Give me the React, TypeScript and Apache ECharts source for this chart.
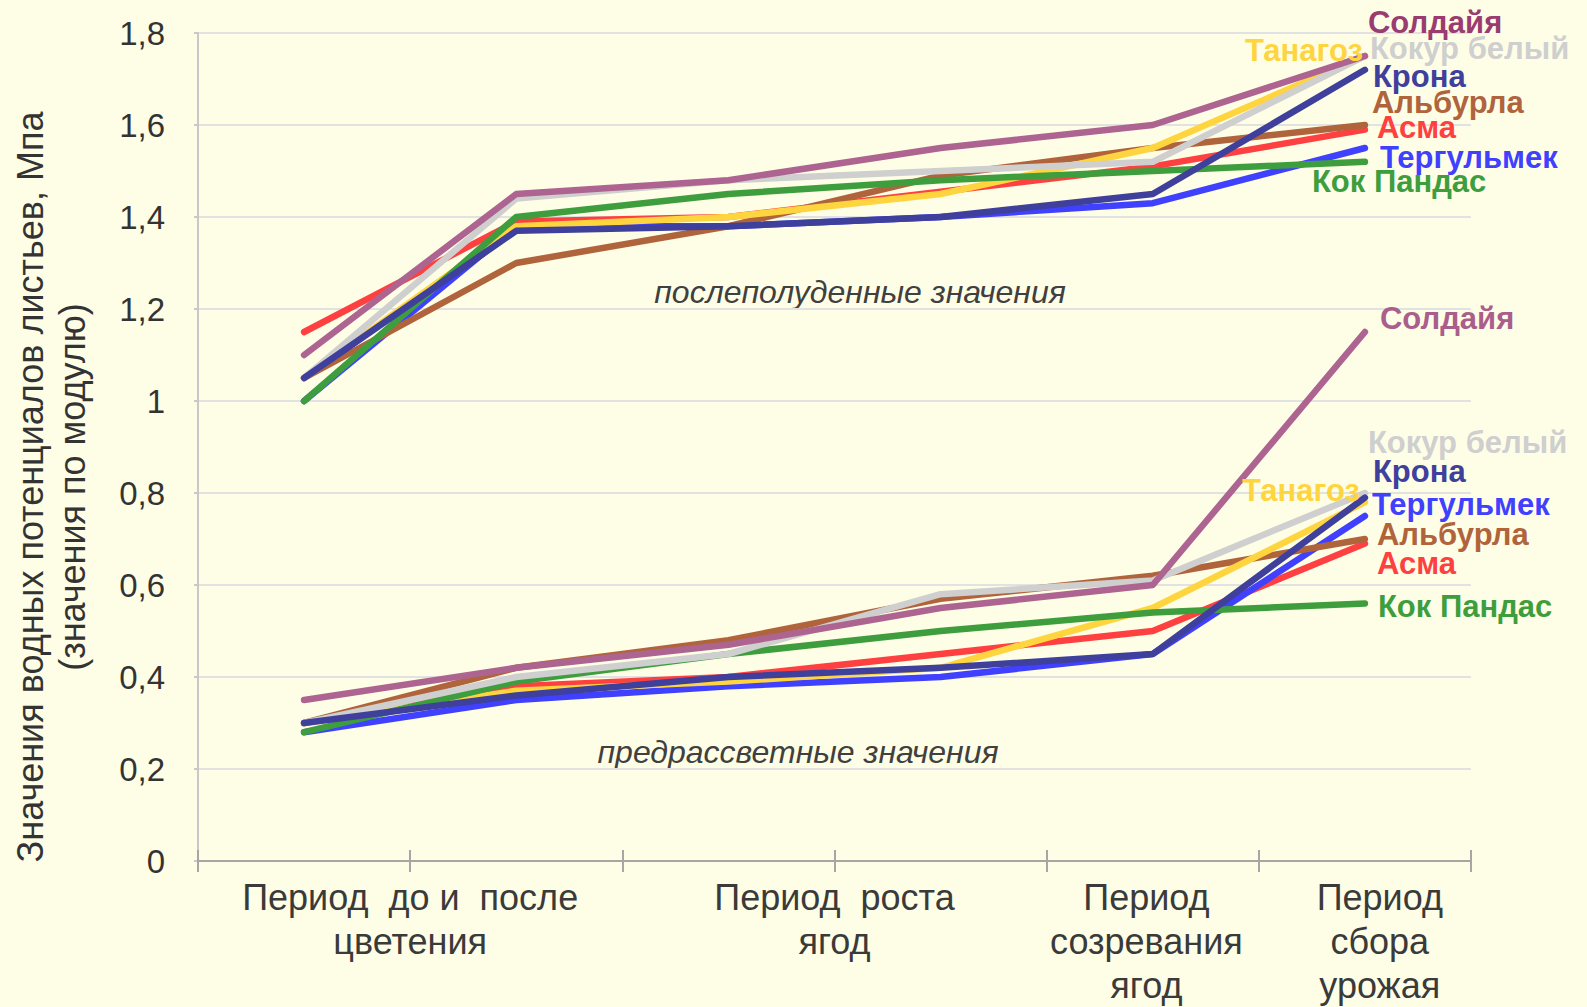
import React, { useEffect, useRef } from 'react';
import * as echarts from 'echarts';

// Measurement points along the season (six per variety)
const measurementPoints = ['I', 'II', 'III', 'IV', 'V', 'VI'];

// Period captions under the axis and where they sit on the 0..6 scale
const periodLabels = [
  'Период  до и  после\nцветения',
  'Период  роста\nягод',
  'Период\nсозревания\nягод',
  'Период\nсбора\nурожая',
];
const periodLabelAt = [1, 3, 4.47, 5.57];

// Y axis scale
const yMin = 0;
const yMax = 1.8;
const yStep = 0.2;

const varieties = ['Солдайя', 'Кокур белый', 'Танагоз', 'Крона', 'Альбурла', 'Асма', 'Тергульмек', 'Кок Пандас'];

// Afternoon leaf water potentials, MPa (absolute values)
const afternoonSoldaya = [1.10, 1.45, 1.48, 1.55, 1.60, 1.75];
const afternoonKokur = [1.05, 1.44, 1.48, 1.50, 1.52, 1.75];
const afternoonTanagoz = [1.05, 1.38, 1.40, 1.45, 1.55, 1.75];
const afternoonKrona = [1.05, 1.37, 1.38, 1.40, 1.45, 1.72];
const afternoonAlburla = [1.05, 1.30, 1.38, 1.49, 1.55, 1.60];
const afternoonAsma = [1.15, 1.39, 1.40, 1.455, 1.51, 1.59];
const afternoonTergulmek = [1.00, 1.38, 1.38, 1.40, 1.43, 1.55];
const afternoonKokPandas = [1.00, 1.40, 1.45, 1.48, 1.50, 1.52];

// Predawn leaf water potentials, MPa (absolute values)
const predawnSoldaya = [0.35, 0.42, 0.47, 0.55, 0.60, 1.15];
const predawnKokur = [0.30, 0.40, 0.45, 0.58, 0.61, 0.80];
const predawnTanagoz = [0.30, 0.37, 0.39, 0.42, 0.55, 0.78];
const predawnKrona = [0.30, 0.36, 0.40, 0.42, 0.45, 0.79];
const predawnAlburla = [0.30, 0.42, 0.48, 0.57, 0.62, 0.70];
const predawnAsma = [0.30, 0.38, 0.40, 0.45, 0.50, 0.69];
const predawnTergulmek = [0.28, 0.35, 0.38, 0.40, 0.45, 0.75];
const predawnKokPandas = [0.28, 0.39, 0.45, 0.50, 0.54, 0.56];

const afternoonValues = [
  afternoonSoldaya, afternoonKokur, afternoonTanagoz, afternoonKrona,
  afternoonAlburla, afternoonAsma, afternoonTergulmek, afternoonKokPandas,
];
const predawnValues = [
  predawnSoldaya, predawnKokur, predawnTanagoz, predawnKrona,
  predawnAlburla, predawnAsma, predawnTergulmek, predawnKokPandas,
];

// Styling per variety (same order as `varieties`)
const lineColors = ['#AE6490', '#CFCFCF', '#FFD53F', '#3F3F9C', '#B0643C', '#FF4040', '#4040FF', '#3E9E3E'];
const afternoonLabelColors = ['#9A3C70', '#CFCFCF', '#FFD53F', '#3F3F9C', '#B0643C', '#FF4040', '#4040FF', '#3E9E3E'];
const predawnLabelColors = ['#AA5E8C', '#CFCFCF', '#FFD53F', '#3F3F9C', '#B0643C', '#FF4040', '#4040FF', '#3E9E3E'];

// End-label nudges so names do not collide (same order as `varieties`)
const afternoonLabelOffsets = [[3, -34], [5, -8], [-2, -6], [8, 7], [7, -23], [12, -2], [15, 9], [-53, 20]];
const predawnLabelOffsets = [[15, -14], [3, -51], [-5, -12], [8, -26], [12, -5], [12, 20], [7, -12], [13, 3]];
const labelAlign = ['left', 'left', 'right', 'left', 'left', 'left', 'left', 'left'];

// Bottom-to-top drawing order (indices into `varieties`)
const drawOrder = [5, 6, 4, 2, 7, 1, 3, 0];

const FONT = '"Liberation Sans", Arial, sans-serif';

function buildSeries(values: number[][], labelColors: string[], offsets: number[][]) {
  return drawOrder.map((i) => ({
    type: 'line',
    name: varieties[i],
    data: values[i],
    xAxisIndex: 0,
    yAxisIndex: 0,
    symbol: 'none',
    showSymbol: false,
    silent: true,
    lineStyle: { width: 6.5, color: lineColors[i], cap: 'round', join: 'round' },
    itemStyle: { color: lineColors[i] },
    emphasis: { disabled: true },
    endLabel: {
      show: true,
      distance: 0,
      formatter: varieties[i],
      offset: offsets[i],
      align: labelAlign[i],
      verticalAlign: 'middle',
      color: labelColors[i],
      fontSize: 31,
      fontWeight: 'bold',
      fontFamily: FONT,
    },
  }));
}

export default function App() {
  const ref = useRef<HTMLDivElement>(null);

  useEffect(() => {
    if (!ref.current) return;
    const chart = echarts.init(ref.current, null, { renderer: 'svg' });

    const formatY = (v: number) => String(Math.round(v * 10) / 10).replace('.', ',');
    const formatPeriod = (v: number) => {
      const k = periodLabelAt.findIndex((p) => Math.abs(p - v) < 1e-6);
      return k >= 0 ? periodLabels[k] : '';
    };

    chart.setOption({
      animation: false,
      backgroundColor: '#FEFEE6',
      textStyle: { fontFamily: FONT },
      grid: { left: 198, right: 116, top: 33, bottom: 143, containLabel: false },
      xAxis: [
        {
          type: 'category',
          data: measurementPoints,
          boundaryGap: true,
          position: 'bottom',
          axisLine: { show: true, lineStyle: { color: '#A6A6A6', width: 2 } },
          axisTick: { show: true, interval: 0, length: 11, lineStyle: { color: '#A6A6A6', width: 2 } },
          axisLabel: { show: false },
          splitLine: { show: false },
        },
        {
          type: 'category',
          data: measurementPoints,
          boundaryGap: true,
          position: 'bottom',
          axisLine: { show: false },
          axisTick: { show: true, inside: true, interval: 0, length: 11, lineStyle: { color: '#A6A6A6', width: 2 } },
          axisLabel: { show: false },
          splitLine: { show: false },
        },
        {
          type: 'value',
          min: 0,
          max: measurementPoints.length,
          position: 'bottom',
          axisLine: { show: false },
          axisTick: { show: false },
          splitLine: { show: false },
          axisLabel: {
            show: true,
            customValues: periodLabelAt,
            formatter: formatPeriod,
            margin: 14,
            fontSize: 36,
            lineHeight: 44,
            color: '#3A3A3A',
            fontFamily: FONT,
            hideOverlap: false,
          },
        },
      ],
      yAxis: {
        type: 'value',
        min: yMin,
        max: yMax,
        interval: yStep,
        axisLine: { show: true, lineStyle: { color: '#C8C8C8', width: 2 } },
        axisTick: { show: true, length: 4, lineStyle: { color: '#C8C8C8', width: 2 } },
        splitLine: { show: true, lineStyle: { color: '#E2E2E2', width: 2 } },
        axisLabel: {
          formatter: formatY,
          margin: 33,
          fontSize: 33,
          color: '#333333',
          fontFamily: FONT,
        },
      },
      series: [
        ...buildSeries(afternoonValues, afternoonLabelColors, afternoonLabelOffsets),
        ...buildSeries(predawnValues, predawnLabelColors, predawnLabelOffsets),
      ],
      graphic: [
        {
          type: 'text',
          x: 51,
          y: 487,
          rotation: Math.PI / 2,
          silent: true,
          style: {
            text: 'Значения водных потенциалов листьев, Мпа\n(значения по модулю)',
            fontSize: 36,
            lineHeight: 42,
            fontFamily: FONT,
            fill: '#333333',
            align: 'center',
            verticalAlign: 'middle',
          },
        },
        {
          type: 'text',
          x: 860,
          y: 292,
          silent: true,
          style: {
            text: 'послеполуденные значения',
            fontSize: 32,
            fontStyle: 'italic',
            fontFamily: FONT,
            fill: '#404040',
            align: 'center',
            verticalAlign: 'middle',
          },
        },
        {
          type: 'text',
          x: 798,
          y: 752,
          silent: true,
          style: {
            text: 'предрассветные значения',
            fontSize: 32,
            fontStyle: 'italic',
            fontFamily: FONT,
            fill: '#404040',
            align: 'center',
            verticalAlign: 'middle',
          },
        },
      ],
    });

    return () => chart.dispose();
  }, []);

  return (
    <div
      ref={ref}
      style={{ position: 'fixed', left: 0, top: 0, width: 1587, height: 1007 }}
    />
  );
}
